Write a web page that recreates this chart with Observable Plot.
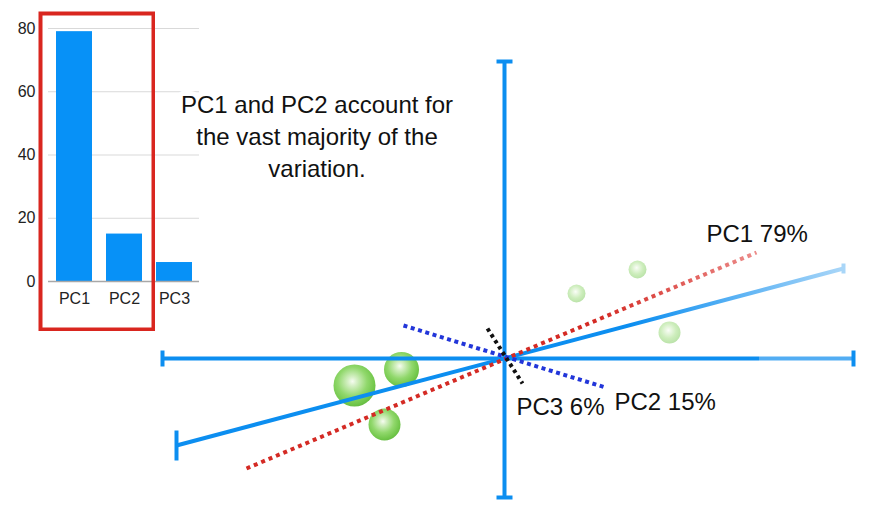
<!DOCTYPE html>
<html>
<head>
<meta charset="utf-8">
<script src="https://cdn.jsdelivr.net/npm/d3@7"></script>
<script src="https://cdn.jsdelivr.net/npm/@observablehq/plot@0.6"></script>
<style>
  html, body { margin: 0; padding: 0; background: #fff; }
  #wrap { position: relative; width: 893px; height: 514px; overflow: hidden; font-family: "Liberation Sans", Arial, Helvetica, sans-serif; }
  #wrap > div, #wrap > svg { position: absolute; }
  #bars { left: 0; top: 0; z-index: 1; }
  #box { left: 38px; top: 11px; z-index: 2; }
  #main { left: 0; top: 0; z-index: 3; pointer-events: none; }
</style>
</head>
<body>
<div id="wrap">
  <div id="bars"></div>
  <div id="box"></div>
  <div id="main"></div>
</div>
<script>
// ---- scree (bar) chart data ----
const components = ["PC1", "PC2", "PC3"];
const variance = [79, 15, 6];
const yTicks = [0, 20, 40, 60, 80];

// ---- annotation text ----
const titleText = "PC1 and PC2 account for\nthe vast majority of the\nvariation.";
const titleX = [-187.5];
const titleY = [224];

// ---- biplot geometry (origin at centre, y up) ----
const axisH = [{x: -342, y: 0}, {x: 349, y: 0}];
const axisV = [{x: 0, y: 297}, {x: 0, y: -139}];
const pc1Fit = [{x: -328, y: -87}, {x: 339, y: 90}];
const pc1Dir = [{x: -258, y: -110}, {x: 252, y: 106}];
const pc2Dir = [{x: -101, y: 33}, {x: 101, y: -29}];
const pc3Dir = [{x: -17, y: 30}, {x: 18, y: -25}];
const axisFadeAt = 254;
const fitFadeAt = 126;
const dirFadeAt = 96;

// sample scores
const scoreX = [-150, -103, -120, 72, 133, 165];
const scoreY = [-27, -11, -66, 65, 89, 26];
const scoreR = [21, 17.5, 16, 9, 9, 11];
const scoreGroup = ["front", "front", "front", "back", "back", "back"];

// component labels
const pcLabels = ["PC1 79%", "PC2 15%", "PC3 6%"];
const pcLabelX = [202, 110, 12];
const pcLabelY = [124, -44, -49];

const FONT = "'Liberation Sans', Arial, Helvetica, sans-serif";
const BLUE = "#0c8ef0";

// ---------- bar chart ----------
const barData = components.map((c, i) => ({component: c, value: variance[i]}));
const bars = Plot.plot({
  width: 210, height: 340,
  marginLeft: 48, marginRight: 11, marginTop: 28, marginBottom: 59,
  style: {fontFamily: FONT, fontSize: "16px", color: "#222", background: "transparent"},
  x: {domain: components, paddingInner: 0.28, paddingOuter: 0.15},
  y: {domain: [0, 80]},
  marks: [
    Plot.gridY(yTicks, {stroke: "#d9d9d9", strokeOpacity: 1, strokeWidth: 1}),
    Plot.barY(barData, {x: "component", y: "value", fill: "#0791f7"}),
    Plot.ruleY([0], {stroke: "#a8a8a8", strokeWidth: 1.5}),
    Plot.axisX({tickSize: 0, tickPadding: 11, fontSize: 16, label: null, fill: "#222"}),
    Plot.axisY(yTicks, {tickSize: 0, tickPadding: 13, fontSize: 16, label: null, fill: "#222"})
  ]
});
document.getElementById("bars").appendChild(bars);

// ---------- red highlight box ----------
const box = Plot.plot({
  width: 117, height: 320, margin: 2,
  style: {background: "transparent"},
  marks: [Plot.frame({stroke: "#d9261f", strokeWidth: 4})]
});
document.getElementById("box").appendChild(box);

// ---------- biplot ----------
const idx = scoreX.map((_, i) => i);
const labIdx = pcLabels.map((_, i) => i);
const cap = (data, h, vertical, stroke, w = 4) => Plot.link(data, {
  x1: d => vertical ? d.x : d.x - h,
  x2: d => vertical ? d.x : d.x + h,
  y1: d => vertical ? d.y - h : d.y,
  y2: d => vertical ? d.y + h : d.y,
  stroke, strokeWidth: w, strokeLinecap: "butt"
});
const seg = (data, stroke, dash) => Plot.line(data, {
  x: "x", y: "y", stroke, strokeWidth: 4, strokeLinecap: "butt",
  ...(dash ? {strokeDasharray: dash} : {})
});

const main = Plot.plot({
  width: 893, height: 514, margin: 0,
  x: {domain: [-504, 389], axis: null},
  y: {domain: [-156, 358], axis: null},
  r: {type: "identity"},
  style: {fontFamily: FONT, background: "transparent", overflow: "visible"},
  marks: [
    Plot.text([titleText], {
      x: () => titleX[0], y: () => titleY[0], text: d => d,
      fontSize: 24, lineHeight: 1.333, fill: "#111",
      stroke: "white", strokeWidth: 10, textAnchor: "middle", lineAnchor: "middle"
    }),
    Plot.dot(idx, {
      x: i => scoreX[i], y: i => scoreY[i], r: i => scoreR[i],
      fill: "url(#sphere)",
      fillOpacity: i => scoreGroup[i] === "back" ? 0.45 : 1
    }),
    seg(axisV, BLUE),
    seg(axisH, "url(#axisGrad)"),
    cap(axisH, 8, true, BLUE),
    cap(axisV, 8, false, BLUE),
    seg(pc1Fit, "url(#fitGrad)"),
    cap(pc1Fit.slice(0, 1), 15, true, BLUE),
    cap(pc1Fit.slice(1), 5, true, "#a9d6f8"),
    seg(pc1Dir, "url(#dirGrad)", "4,4"),
    seg(pc2Dir, "#2236d9", "4,3.6"),
    seg(pc3Dir, "#111", "3.5,3.5"),
    Plot.text(labIdx, {
      x: i => pcLabelX[i], y: i => pcLabelY[i], text: i => pcLabels[i],
      fontSize: 24, fill: "#111", textAnchor: "start", lineAnchor: "middle"
    })
  ]
});
document.getElementById("main").appendChild(main);

// gradients defined from the plot's own scales
const xs = main.scale("x"), ys = main.scale("y");
const svgMain = d3.select(main);
const defs = svgMain.insert("defs", ":first-child");

function linGrad(id, p0, p1, fadeX, c0, c1, step) {
  const g = defs.append("linearGradient").attr("id", id).attr("gradientUnits", "userSpaceOnUse")
    .attr("x1", xs.apply(p0.x)).attr("y1", ys.apply(p0.y))
    .attr("x2", xs.apply(p1.x)).attr("y2", ys.apply(p1.y));
  const f = (fadeX - p0.x) / (p1.x - p0.x);
  g.append("stop").attr("offset", 0).attr("stop-color", c0);
  g.append("stop").attr("offset", f).attr("stop-color", c0);
  if (step) g.append("stop").attr("offset", f).attr("stop-color", c1);
  g.append("stop").attr("offset", 1).attr("stop-color", c1);
}
linGrad("axisGrad", axisH[0], axisH[1], axisFadeAt, BLUE, "#52adf3", true);
linGrad("fitGrad", pc1Fit[0], pc1Fit[1], fitFadeAt, BLUE, "#a9d6f8", false);
linGrad("dirGrad", pc1Dir[0], pc1Dir[1], dirFadeAt, "#d42a24", "#ec8c8a", false);

const rg = defs.append("radialGradient").attr("id", "sphere")
  .attr("cx", 0.45).attr("cy", 0.42).attr("r", 0.58).attr("fx", 0.45).attr("fy", 0.4);
[[0, "#f6fcf1"], [0.18, "#d6f0c6"], [0.6, "#91d86c"], [0.92, "#70c649"], [1, "#68bd44"]]
  .forEach(([o, c]) => rg.append("stop").attr("offset", o).attr("stop-color", c));
</script>
</body>
</html>
